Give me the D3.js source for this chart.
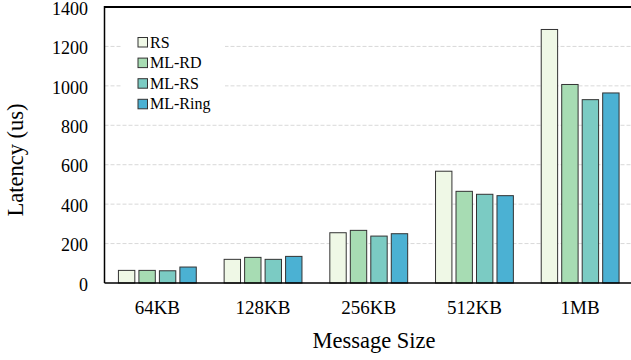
<!DOCTYPE html>
<html>
<head>
<meta charset="utf-8">
<script src="https://cdn.jsdelivr.net/npm/d3@7"></script>
<style>
  body { margin: 0; background: #fff; }
  text { font-family: "Liberation Serif", "Times New Roman", serif; }
</style>
</head>
<body>
<svg id="chart" width="631" height="360"></svg>
<script>
// Message sizes on the x axis
var sizes = ['64KB', '128KB', '256KB', '512KB', '1MB']
// Algorithms, one bar each per message size
var series = ['RS', 'ML-RD', 'ML-RS', 'ML-Ring']
var colors = ['#eff8e6', '#a7dcb3', '#7bcbc3', '#4bb1d3']
// Latency values (us)
var rsValues = [64, 120, 255, 567, 1286]
var mlRdValues = [64, 130, 267, 465, 1007]
var mlRsValues = [62, 120, 238, 450, 930]
var mlRingValues = [81, 135, 250, 443, 964]
var yTicks = [0, 200, 400, 600, 800, 1000, 1200, 1400]

var allValues = [rsValues, mlRdValues, mlRsValues, mlRingValues]

var svg = d3.select('#chart')
var plotLeft = 104.5, plotRight = 633, plotTop = 7, plotBottom = 283

var x = d3.scaleBand().domain(sizes).range([plotLeft, plotRight]).paddingInner(0).paddingOuter(0)
var inner = d3.scaleBand().domain(series).range([0, x.bandwidth()]).paddingInner(0.2).paddingOuter(0.68)
var y = d3.scaleLinear().domain([0, 1400]).range([plotBottom, plotTop])

// Gridlines
svg.append('g').selectAll('line')
  .data(yTicks.filter(function(d) { return d > 0 && d < 1400 }))
  .enter().append('line')
  .attr('x1', plotLeft).attr('x2', 631)
  .attr('y1', function(d) { return y(d) }).attr('y2', function(d) { return y(d) })
  .attr('stroke', '#d9d9d9').attr('stroke-width', 1).attr('stroke-dasharray', '4,2')

// Bars
var groups = svg.append('g').selectAll('g')
  .data(sizes)
  .enter().append('g')
  .attr('transform', function(d) { return 'translate(' + x(d) + ',0)' })

groups.selectAll('rect')
  .data(function(d, i) {
    return series.map(function(s, j) { return { s: s, v: allValues[j][i], c: colors[j] } })
  })
  .enter().append('rect')
  .attr('x', function(d) { return inner(d.s) })
  .attr('width', inner.bandwidth())
  .attr('y', function(d) { return y(d.v) })
  .attr('height', function(d) { return plotBottom - y(d.v) })
  .attr('fill', function(d) { return d.c })
  .attr('stroke', '#333')
  .attr('stroke-width', 1)

// Axes frame
svg.append('line').attr('x1', plotLeft).attr('x2', 631).attr('y1', plotTop).attr('y2', plotTop)
  .attr('stroke', '#000').attr('stroke-width', 2)
svg.append('line').attr('x1', plotLeft).attr('x2', plotLeft).attr('y1', plotTop - 1).attr('y2', plotBottom)
  .attr('stroke', '#000').attr('stroke-width', 1.5)
svg.append('line').attr('x1', plotLeft).attr('x2', 631).attr('y1', plotBottom).attr('y2', plotBottom)
  .attr('stroke', '#000').attr('stroke-width', 1.5)

// Y tick labels
var yAxis = d3.axisLeft(y).tickValues(yTicks).tickFormat(d3.format('d')).tickSize(0).tickPadding(16.5)
var gy = svg.append('g').attr('transform', 'translate(' + plotLeft + ',0)').call(yAxis)
gy.select('.domain').remove()
gy.selectAll('text').style('font-family', '"Liberation Serif", serif').style('font-size', '18px')
  .attr('fill', '#000').attr('dy', '0.4em')

// X tick labels
var xAxis = d3.axisBottom(x).tickSize(0).tickPadding(18)
var gx = svg.append('g').attr('transform', 'translate(0,' + plotBottom + ')').call(xAxis)
gx.select('.domain').remove()
gx.selectAll('text').style('font-family', '"Liberation Serif", serif').style('font-size', '19px').attr('fill', '#000')

// Axis titles
svg.append('text').attr('x', 374).attr('y', 348).attr('text-anchor', 'middle')
  .style('font-size', '22.5px').text('Message Size')
svg.append('text').attr('transform', 'translate(23,160) rotate(-90)')
  .attr('text-anchor', 'middle').style('font-size', '22.5px').text('Latency (us)')

// Legend
var legend = svg.append('g')
legend.append('rect').attr('x', 121).attr('y', 30).attr('width', 104).attr('height', 84).attr('fill', '#fff')
var items = legend.selectAll('g.item').data(series).enter().append('g')
  .attr('transform', function(d, i) { return 'translate(138,' + (42 + i * 20.6) + ')' })
items.append('rect').attr('x', 0).attr('y', -4.5).attr('width', 9.5).attr('height', 9.5)
  .attr('fill', function(d, i) { return colors[i] }).attr('stroke', '#333').attr('stroke-width', 1)
items.append('text').attr('x', 12).attr('y', 5.5).style('font-size', '16px').text(function(d) { return d })
</script>
</body>
</html>
